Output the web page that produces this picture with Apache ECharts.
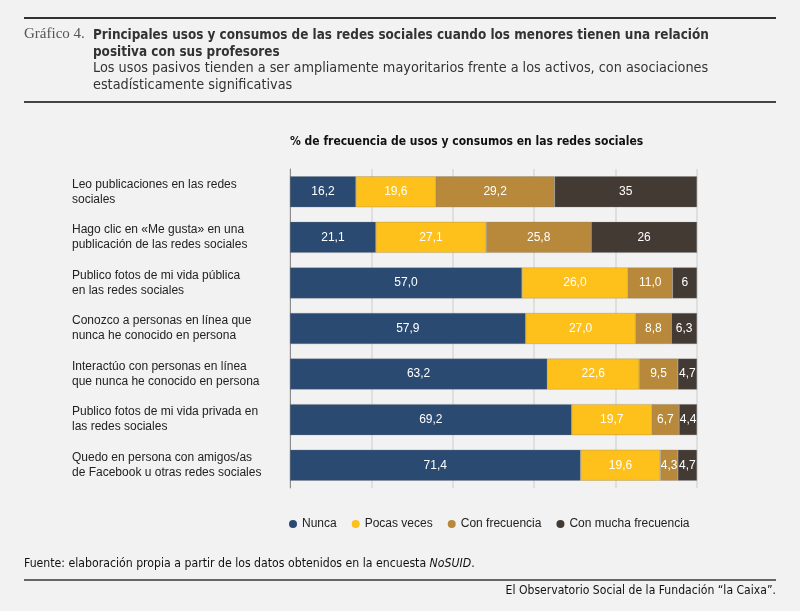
<!DOCTYPE html>
<html>
<head>
<meta charset="utf-8">
<script src="https://cdn.jsdelivr.net/npm/echarts@6/dist/echarts.min.js"></script>
<style>
  html, body { margin: 0; padding: 0; background: #f2f2f2; }
  #chart { width: 800px; height: 611px; }
</style>
</head>
<body>
<div id="chart"></div>
<script>
// categorías (de arriba abajo)
const categories = [
  'Leo publicaciones en las redes\nsociales',
  'Hago clic en «Me gusta» en una\npublicación de las redes sociales',
  'Publico fotos de mi vida pública\nen las redes sociales',
  'Conozco a personas en línea que\nnunca he conocido en persona',
  'Interactúo con personas en línea\nque nunca he conocido en persona',
  'Publico fotos de mi vida privada en\nlas redes sociales',
  'Quedo en persona con amigos/as\nde Facebook u otras redes sociales'
];
const seriesNames = ['Nunca', 'Pocas veces', 'Con frecuencia', 'Con mucha frecuencia'];
const nunca = [16.2, 21.1, 57.0, 57.9, 63.2, 69.2, 71.4];
const pocasVeces = [19.6, 27.1, 26.0, 27.0, 22.6, 19.7, 19.6];
const conFrecuencia = [29.2, 25.8, 11.0, 8.8, 9.5, 6.7, 4.3];
const muchaFrecuencia = [35, 26, 6, 6.3, 4.7, 4.4, 4.7];
const colors = ['#2a4a71', '#fec01b', '#b8893a', '#433a34'];
const xTicks = [0, 20, 40, 60, 80, 100];

const SANS = '"Liberation Sans", Arial, sans-serif';
const NARROW = '"DejaVu Sans Condensed", "Liberation Sans", sans-serif';

const chart = echarts.init(document.getElementById('chart'));

// etiqueta con coma decimal; la última serie sin decimales cuando es entera
function fmt(v, si) {
  if (si === 3 && Number.isInteger(v)) return String(v);
  return v.toFixed(1).replace('.', ',');
}

const allData = [nunca, pocasVeces, conFrecuencia, muchaFrecuencia];
const series = allData.map((d, i) => ({
  name: seriesNames[i],
  type: 'bar',
  stack: 'total',
  barCategoryGap: '32%',
  data: d,
  itemStyle: { color: colors[i], borderColor: 'rgba(120,120,120,0.6)', borderWidth: 0.5 },
  label: {
    show: true,
    position: 'inside',
    color: '#fff',
    fontFamily: SANS,
    fontSize: 12,
    formatter: (p) => fmt(p.value, i)
  }
}));

const option = {
  backgroundColor: '#f2f2f2',
  animation: false,
  color: colors,
  grid: { left: 290, right: 103, top: 169, bottom: 123 },
  xAxis: {
    type: 'value',
    min: xTicks[0],
    max: xTicks[xTicks.length - 1],
    interval: 20,
    axisLabel: { show: false },
    axisLine: { show: false },
    axisTick: { show: false },
    splitLine: { lineStyle: { color: '#d8d8d8', width: 1.5 } }
  },
  yAxis: {
    type: 'category',
    inverse: true,
    data: categories,
    axisTick: { show: false },
    axisLine: { show: true, lineStyle: { color: '#8c8c8c', width: 1 } },
    axisLabel: {
      align: 'left',
      margin: 218,
      color: '#222',
      fontFamily: SANS,
      fontSize: 12,
      lineHeight: 15
    }
  },
  legend: {
    left: 284,
    top: 513,
    icon: 'circle',
    itemWidth: 8,
    itemHeight: 8,
    itemGap: 15,
    itemStyle: { borderWidth: 0 },
    textStyle: { color: '#222', fontFamily: SANS, fontSize: 12 },
    data: seriesNames
  },
  graphic: [
    { type: 'line', shape: { x1: 24, y1: 18, x2: 776, y2: 18 }, style: { stroke: '#333', lineWidth: 2 } },
    { type: 'text', left: 24, top: 27, style: { text: 'Gráfico 4.', font: '15px "Liberation Serif", serif', fill: '#555' } },
    { type: 'text', left: 93, top: 27, style: { text: 'Principales usos y consumos de las redes sociales cuando los menores tienen una relación\npositiva con sus profesores', font: 'bold 13.4px ' + NARROW, fill: '#333', lineHeight: 17 } },
    { type: 'text', left: 93, top: 60, style: { text: 'Los usos pasivos tienden a ser ampliamente mayoritarios frente a los activos, con asociaciones\nestadísticamente significativas', font: '14.3px ' + NARROW, fill: '#333', lineHeight: 17 } },
    { type: 'line', shape: { x1: 24, y1: 102, x2: 776, y2: 102 }, style: { stroke: '#444', lineWidth: 2 } },
    { type: 'text', left: 290, top: 136, style: { text: '% de frecuencia de usos y consumos en las redes sociales', font: 'bold 12px ' + NARROW, fill: '#111' } },
    {
      type: 'text', left: 24, top: 558,
      style: {
        text: 'Fuente: elaboración propia a partir de los datos obtenidos en la encuesta {i|NoSUID}.',
        font: '12.2px ' + NARROW, fill: '#111',
        rich: { i: { fontStyle: 'italic', fontFamily: NARROW, fontSize: 12.2, fill: '#111' } }
      }
    },
    { type: 'line', shape: { x1: 24, y1: 580, x2: 776, y2: 580 }, style: { stroke: '#666', lineWidth: 2 } },
    { type: 'text', right: 24, top: 585, style: { text: 'El Observatorio Social de la Fundación “la Caixa”.', font: '12.1px ' + NARROW, fill: '#111' } }
  ],
  series: series
};

chart.setOption(option);
</script>
</body>
</html>
